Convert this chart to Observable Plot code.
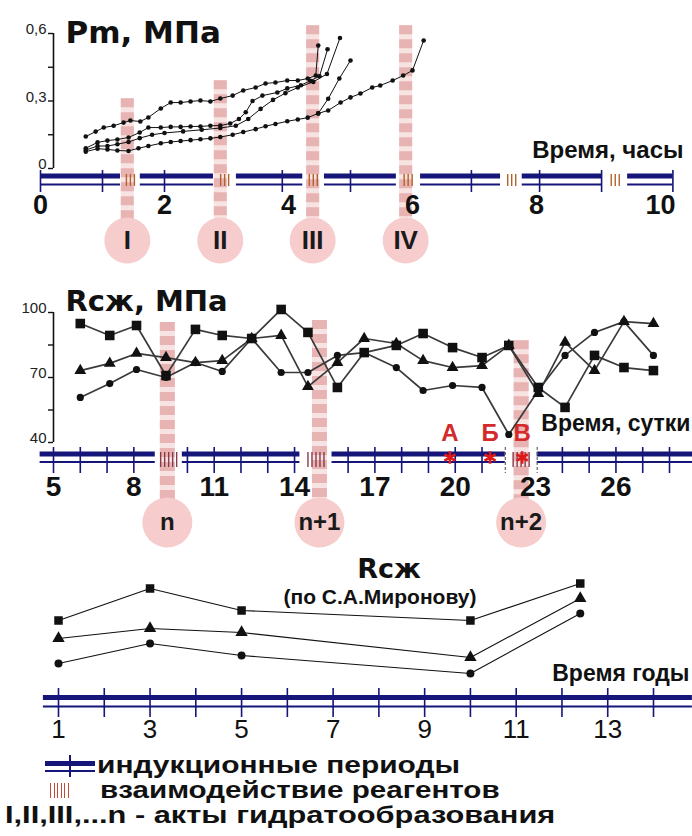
<!DOCTYPE html>
<html><head><meta charset="utf-8">
<script src="https://cdn.jsdelivr.net/npm/d3@7"></script>
<script src="https://cdn.jsdelivr.net/npm/@observablehq/plot@0.6"></script>
<style>
body{margin:0;background:#fff;}
#wrap{position:relative;width:692px;height:836px;overflow:hidden;background:#fff;}
#wrap svg{display:block;}
#legend{position:relative;width:692px;height:96px;}
.lt{position:absolute;font-family:"Liberation Sans",sans-serif;font-weight:bold;font-size:23px;line-height:25px;height:25px;white-space:nowrap;color:#111;transform-origin:0 50%;}
.bar{position:absolute;}
</style></head><body><div id="wrap"></div>
<script>
// ---------- Panel 1: Pm, MPa vs time (hours) ----------
const pmTitle = "Pm, МПа";
const pmAxisName = "Время, часы";
const pmSeries1 = [[0.73,0.142],[0.89,0.164],[1.02,0.182],[1.18,0.19],[1.34,0.204],[1.45,0.213],[1.61,0.209],[1.74,0.227],[1.94,0.267],[2.1,0.293],[2.26,0.293],[2.42,0.298],[2.58,0.302],[2.74,0.298],[2.9,0.311],[3.1,0.324],[3.27,0.347],[3.47,0.36],[3.63,0.378],[3.79,0.382],[3.98,0.391],[4.15,0.391],[4.31,0.4],[4.44,0.413],[4.48,0.547]];
const pmSeries2 = [[0.73,0.09],[0.92,0.116],[1.08,0.124],[1.24,0.129],[1.42,0.138],[1.6,0.16],[1.74,0.182],[1.94,0.182],[2.1,0.185],[2.26,0.185],[2.42,0.187],[2.58,0.187],[2.74,0.19],[2.9,0.191],[3.06,0.2],[3.2,0.22],[3.31,0.25],[3.42,0.3],[3.58,0.324],[3.82,0.338],[3.98,0.356],[4.2,0.37],[4.35,0.39],[4.5,0.41],[4.63,0.53]];
const pmSeries3 = [[0.73,0.075],[0.92,0.088],[1.08,0.085],[1.24,0.08],[1.42,0.078],[1.58,0.09],[1.74,0.1],[1.94,0.112],[2.1,0.118],[2.26,0.122],[2.42,0.126],[2.58,0.13],[2.74,0.134],[2.9,0.14],[3.1,0.15],[3.27,0.162],[3.47,0.175],[3.63,0.188],[3.79,0.198],[3.98,0.21],[4.15,0.218],[4.31,0.226],[4.48,0.245],[4.64,0.258],[4.84,0.293],[5.0,0.316],[5.16,0.333],[5.35,0.36],[5.48,0.369],[5.68,0.391],[5.85,0.413],[6.0,0.436],[6.18,0.569]];
const pmSeries4 = [[0.73,0.082],[0.92,0.1],[1.08,0.1],[1.24,0.108],[1.42,0.118],[1.6,0.135],[1.8,0.15],[2.0,0.158],[2.3,0.165],[2.6,0.172],[2.9,0.18],[3.15,0.19],[3.35,0.22],[3.55,0.265],[3.75,0.305],[3.95,0.335],[4.15,0.36],[4.4,0.385],[4.62,0.42],[4.83,0.58]];
const pmSeries5 = [[4.48,0.245],[4.64,0.31],[4.82,0.4],[5.0,0.48]];
const pmEventT = [1.4, 2.9, 4.39, 5.89];
const pmEventTop = [0.31, 0.39, 0.635, 0.635];
const pmEventLabels = ["I", "II", "III", "IV"];
const pmHatchT = [1.45, 2.97, 4.4, 5.93, 7.6, 9.27];
const pmSegments = [[0,1.29],[1.61,2.79],[3.16,4.23],[4.58,5.74],[6.13,7.42],[7.77,9.06],[9.47,10.2]];
const pmTickT = [0, 1, 2, 3.9, 5, 6.95, 8.05, 9.05, 10.2];
const pmXLabels = [0, 2, 4, 6, 8, 10];
const pmYTicks = [0, 0.15, 0.3, 0.45, 0.6];
const pmYLabels = ["0", "", "0,3", "", "0,6"];

// ---------- Panel 2: Rсж, MPa vs time (days) ----------
const rsTitle = "Rсж, МПа";
const rsAxisName = "Время, сутки";
const rsDays = [6.0, 7.1, 8.1, 9.2, 10.3, 11.3, 12.4, 13.5, 14.5, 15.6, 16.6, 17.8, 18.8, 19.9, 21.0, 22.0, 23.1, 24.1, 25.2, 26.3, 27.4];
const rsSquare = [94.9, 89.4, 94, 70.9, 92.2, 89.4, 88, 101.4, 90.8, 65.4, 81.5, 84.8, 90.3, 83.8, 79.2, 84.8, 65.4, 56.2, 80.2, 74.6, 73.2];
const rsTriangle = [73.2, 76.5, 81.1, 79.2, 76.9, 77.8, 88, 89.4, 65.8, 76.9, 88, 85.7, 77.8, 74.6, 75.5, 84.8, 62.6, 86.2, 73.2, 95.8, 94.9];
const rsCircle = [60.8, 67.2, 73.7, 70, 76.9, 72.8, 88, 72.3, 72.3, 80.2, 81.5, 74.6, 64, 66.3, 65.4, 43.7, 64, 80.2, 90.8, 95.8, 80.2];
const rsEventD = [9.25, 14.93, 22.46];
const rsEventTop = [95.4, 96.3, 87];
const rsEventLabels = ["n", "n+1", "n+2"];
const rsHatchD = [9.3, 14.8, 22.46];
const rsSegments = [[4.5,8.8],[9.81,14.2],[15.4,21.87],[23.06,28.9]];
const rsTickD = [5,6,7,8,10,11,12,13,14,16,17,18,19,20,21,24,25,26,27,28];
const rsBracketD = [21.87, 23.06];
const rsXLabels = [5, 8, 11, 14, 17, 20, 23, 26];
const rsYTicks = [40, 55, 70, 85, 100];
const rsYLabels = ["40", "", "70", "", "100"];
const rsStageLetters = ["А", "Б", "В"];
const rsStageD = [19.8, 21.3, 22.5];

// ---------- Panel 3: Rсж (по С.А.Миронову) vs years ----------
const rcTitle = "Rсж";
const rcSubtitle = "(по С.А.Миронову)";
const rcAxisName = "Время годы";
const rcYears = [1, 3, 5, 10, 12.4];
const rcSquare = [60, 92, 70, 60, 97];
const rcTriangle = [42, 52, 48, 23, 82];
const rcCircle = [17, 37, 25, 7, 67];
const rcSegments = [[0.67, 14.85]];
const rcTickYears = [1,2,3,4,5,6,7,8,9,10,11,12,13,14];
const rcXLabels = [1, 3, 5, 7, 9, 11, 13];

// ---------- Legend ----------
const legendLines = ["индукционные периоды", "взаимодействие реагентов", "I,II,III,...n - акты гидратообразования"];

// ---------- styles ----------
const NAVY = "#15157a";
const HATCH = "#b2622c";
const HATCH2 = "#8a3a4a";
const PINK = "#f6cccc";
const BAND = "#e8b3b3";
const BAND_LIGHT = "#f8e3e3";
const FONT = "Liberation Sans";
const TITLE_FONT = "DejaVu Sans";
const INK = "#111";

function strip(segments, ticks, hatches, offsets, hatchColor, o) {
  const marks = [
    Plot.ruleY(segments, {x1: d => d[0], x2: d => d[1], y: o.y0, dy: o.thickDy, stroke: NAVY, strokeWidth: 5}),
    Plot.ruleY(segments, {x1: d => d[0], x2: d => d[1], y: o.y0, dy: o.thinDy, stroke: NAVY, strokeWidth: 2}),
    Plot.ruleX(ticks, {x: d => d, y1: o.y0, y2: o.y0, dy: o.tickDy, insetTop: -o.tickHalf, insetBottom: -o.tickHalf, stroke: NAVY, strokeWidth: 1.6})
  ];
  for (const off of offsets) {
    marks.push(Plot.ruleX(hatches, {x: d => d, y1: o.y0, y2: o.y0, dy: o.hatchDy, dx: off, insetTop: -o.hatchHalf, insetBottom: -o.hatchHalf, stroke: hatchColor, strokeWidth: 1.4}));
  }
  return marks;
}

const pmEvents = pmEventT.map((t, i) => ({t, top: pmEventTop[i], label: pmEventLabels[i]}));
const pmSeries = [pmSeries1, pmSeries2, pmSeries3, pmSeries4, pmSeries5];

const p1 = Plot.plot({
  width: 692, height: 265,
  marginTop: 33, marginBottom: 97, marginLeft: 53, marginRight: 32,
  x: {domain: [0, 10], range: [40, 660], axis: null},
  y: {domain: [0, 0.6]},
  style: {fontFamily: FONT, overflow: "visible", background: "transparent", color: INK},
  marks: [
    Plot.ruleX(pmEvents, {x: "t", y1: "top", y2: 0, insetBottom: -72, stroke: BAND_LIGHT, strokeWidth: 13}),
    Plot.ruleX(pmEvents, {x: "t", y1: "top", y2: 0, insetBottom: -72, stroke: BAND, strokeWidth: 13, strokeDasharray: "9,5"}),
    Plot.dot(pmEvents, {x: "t", y: 0, dy: 72, r: 23, fill: PINK}),
    Plot.text(pmEvents, {x: "t", y: 0, dy: 72, text: "label", fontSize: 26, fontWeight: "bold", fontFamily: FONT, fill: "#1a1a1a"}),
    ...strip(pmSegments, pmTickT, pmHatchT, [-4, 0, 4], HATCH, {y0: 0, thickDy: 7.5, thinDy: 16, tickDy: 13, tickHalf: 11, hatchDy: 12, hatchHalf: 6}),
    Plot.text(pmXLabels, {x: d => d, y: 0, dy: 37, text: d => String(d), fontSize: 27, fontWeight: "bold", fontFamily: FONT, fill: INK}),
    Plot.ruleX([0], {y1: 0, y2: 0.6, dx: 13, stroke: INK, strokeWidth: 1.6}),
    Plot.axisY(pmYTicks, {anchor: "left", tickSize: 5, tickFormat: () => "", label: null, stroke: INK, strokeWidth: 1.4}),
    Plot.text(pmYTicks, {y: d => d, frameAnchor: "left", dx: -7, dy: -4, textAnchor: "end", text: (d, i) => pmYLabels[i], fontSize: 15, fontFamily: FONT, fill: "#222"}),
    Plot.text([pmAxisName], {frameAnchor: "bottom-right", dx: 23, dy: -18, text: d => d, textAnchor: "end", lineAnchor: "middle", fontSize: 24, fontWeight: "bold", fontFamily: FONT, fill: INK}),
    Plot.text([pmTitle], {frameAnchor: "top-left", dx: 12, dy: 0, text: d => d, textAnchor: "start", lineAnchor: "middle", fontSize: 31, fontWeight: "bold", fontFamily: TITLE_FONT, fill: INK}),
    ...pmSeries.map(s => Plot.line(s, {x: d => d[0], y: d => d[1], stroke: INK, strokeWidth: 1})),
    ...pmSeries.map(s => Plot.dot(s, {x: d => d[0], y: d => d[1], r: 2.3, fill: INK}))
  ]
});

const rsEvents = rsEventD.map((d, i) => ({d, top: rsEventTop[i], label: rsEventLabels[i]}));
const rsStages = rsStageD.map((d, i) => ({d, letter: rsStageLetters[i]}));
const rsData = rsDays.map((d, i) => ({d, sq: rsSquare[i], tr: rsTriangle[i], ci: rsCircle[i]}));

const p2 = Plot.plot({
  width: 692, height: 290,
  marginTop: 47, marginBottom: 113, marginLeft: 53, marginRight: 23,
  x: {domain: [5, 28], range: [53, 669], axis: null},
  y: {domain: [40, 100]},
  style: {fontFamily: FONT, overflow: "visible", background: "transparent", color: INK},
  marks: [
    Plot.ruleX(rsEvents, {x: "d", y1: "top", y2: 40, insetBottom: -80, stroke: BAND_LIGHT, strokeWidth: 15}),
    Plot.ruleX(rsEvents, {x: "d", y1: "top", y2: 40, insetBottom: -80, stroke: BAND, strokeWidth: 15, strokeDasharray: "9,5"}),
    Plot.dot(rsEvents, {x: "d", y: 40, dy: 80, r: 25, fill: PINK}),
    Plot.text(rsEvents, {x: "d", y: 40, dy: 80, text: "label", fontSize: 24, fontWeight: "bold", fontFamily: FONT, fill: "#1a1a1a"}),
    ...strip(rsSegments, rsTickD, rsHatchD, [-8, -4, 0, 4, 8], HATCH2, {y0: 40, thickDy: 11.5, thinDy: 19.5, tickDy: 18, tickHalf: 13, hatchDy: 17.5, hatchHalf: 7.5}),
    Plot.ruleX(rsBracketD, {x: d => d, y1: 40, y2: 40, dy: 18, insetTop: -13, insetBottom: -13, stroke: "#666", strokeWidth: 1.2, strokeDasharray: "3,2"}),
    Plot.dot(rsStages, {x: "d", y: 40, dy: 15, symbol: "asterisk", r: 6, stroke: "#e01818", strokeWidth: 2.6}),
    Plot.text(rsStages, {x: "d", y: 40, dy: -9, text: "letter", fontSize: 24, fontWeight: "bold", fontFamily: FONT, fill: "#d42a2a"}),
    Plot.text(rsXLabels, {x: d => d, y: 40, dy: 45, text: d => String(d), fontSize: 28, fontWeight: "bold", fontFamily: FONT, fill: INK}),
    Plot.ruleX([5], {y1: 40, y2: 100, stroke: INK, strokeWidth: 1.6}),
    Plot.axisY(rsYTicks, {anchor: "left", tickSize: 5, tickFormat: () => "", label: null, stroke: INK, strokeWidth: 1.4}),
    Plot.text(rsYTicks, {y: d => d, frameAnchor: "left", dx: -7, dy: -4, textAnchor: "end", text: (d, i) => rsYLabels[i], fontSize: 15, fontFamily: FONT, fill: "#222"}),
    Plot.text([rsAxisName], {frameAnchor: "bottom-right", dx: 21, dy: -19, text: d => d, textAnchor: "end", lineAnchor: "middle", fontSize: 23, fontWeight: "bold", fontFamily: FONT, fill: INK}),
    Plot.text([rsTitle], {frameAnchor: "top-left", dx: 12, dy: -11, text: d => d, textAnchor: "start", lineAnchor: "middle", fontSize: 29, fontWeight: "bold", fontFamily: TITLE_FONT, fill: INK}),
    Plot.line(rsData, {x: "d", y: "sq", stroke: "#3a3a3a", strokeWidth: 1.7}),
    Plot.line(rsData, {x: "d", y: "tr", stroke: "#3a3a3a", strokeWidth: 1.7}),
    Plot.line(rsData, {x: "d", y: "ci", stroke: "#3a3a3a", strokeWidth: 1.7}),
    Plot.dot(rsData, {x: "d", y: "sq", symbol: "square", r: 5.4, fill: INK}),
    Plot.dot(rsData, {x: "d", y: "tr", symbol: "triangle", r: 4.4, fill: INK}),
    Plot.dot(rsData, {x: "d", y: "ci", symbol: "circle", r: 3.6, fill: INK})
  ]
});

const rcData = rcYears.map((t, i) => ({t, sq: rcSquare[i], tr: rcTriangle[i], ci: rcCircle[i]}));

const p3 = Plot.plot({
  width: 692, height: 185,
  marginTop: 25, marginBottom: 60, marginLeft: 43, marginRight: 0,
  x: {domain: [1, 14], range: [58, 653], axis: null},
  y: {domain: [0, 100], axis: null},
  style: {fontFamily: FONT, overflow: "visible", background: "transparent", color: INK},
  marks: [
    ...strip(rcSegments, rcTickYears, [], [], HATCH, {y0: 0, thickDy: 17, thinDy: 26, tickDy: 22.5, tickHalf: 14.5, hatchDy: 0, hatchHalf: 0}),
    Plot.text(rcXLabels, {x: d => d, y: 0, dy: 49, text: d => String(d), fontSize: 26, fontFamily: FONT, fill: INK}),
    Plot.text([rcTitle], {frameAnchor: "top", dx: 21, dy: -11, text: d => d, lineAnchor: "middle", fontSize: 27, fontWeight: "bold", fontFamily: TITLE_FONT, fill: INK}),
    Plot.text([rcSubtitle], {frameAnchor: "top", dx: 12, dy: 17, text: d => d, lineAnchor: "middle", fontSize: 21, fontWeight: "bold", fontFamily: FONT, fill: INK}),
    Plot.text([rcAxisName], {frameAnchor: "bottom-right", dx: -3, dy: -7, text: d => d, textAnchor: "end", lineAnchor: "middle", fontSize: 23, fontWeight: "bold", fontFamily: FONT, fill: INK}),
    Plot.line(rcData, {x: "t", y: "sq", stroke: INK, strokeWidth: 1.1}),
    Plot.line(rcData, {x: "t", y: "tr", stroke: INK, strokeWidth: 1.1}),
    Plot.line(rcData, {x: "t", y: "ci", stroke: INK, strokeWidth: 1.1}),
    Plot.dot(rcData, {x: "t", y: "sq", symbol: "square", r: 4.8, fill: INK}),
    Plot.dot(rcData, {x: "t", y: "tr", symbol: "triangle", r: 4.6, fill: INK}),
    Plot.dot(rcData, {x: "t", y: "ci", symbol: "circle", r: 4, fill: INK})
  ]
});

const wrap = document.getElementById("wrap");
wrap.appendChild(p1);
wrap.appendChild(p2);
wrap.appendChild(p3);

// legend (HTML below the charts)
const lg = document.createElement("div");
lg.id = "legend";
wrap.appendChild(lg);
function box(left, top, w, h, color) {
  const b = document.createElement("div");
  b.className = "bar";
  b.style.cssText = `left:${left}px;top:${top}px;width:${w}px;height:${h}px;background:${color};`;
  lg.appendChild(b);
}
box(45, 21, 50, 5, NAVY);
box(45, 30, 50, 2, NAVY);
box(69, 15, 2, 22, NAVY);
for (let k = 0; k < 6; k++) box(50 + k * 3.5, 43, 1.3, 15, "#c24a3c");
const textLeft = [97, 100, 5];
const textCenter = [25, 50, 75];
const textWidth = [363, 400, 550];
legendLines.forEach((s, i) => {
  const t = document.createElement("div");
  t.className = "lt";
  t.style.left = textLeft[i] + "px";
  t.style.top = (textCenter[i] - 12.5) + "px";
  t.textContent = s;
  lg.appendChild(t);
  const w = t.offsetWidth;
  if (w > 0) t.style.transform = `scaleX(${(textWidth[i] / w).toFixed(3)})`;
});
</script>
</body></html>
